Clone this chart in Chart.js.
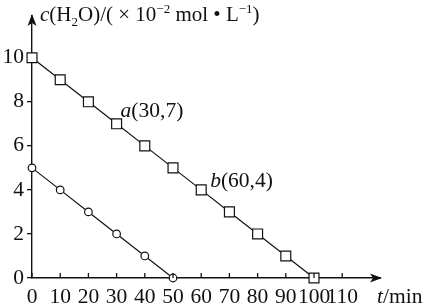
<!doctype html>
<html lang="zh">
<head>
<meta charset="UTF-8" />
<title>c(H2O) vs t</title>
<script src="https://cdn.jsdelivr.net/npm/chart.js"></script>
<style>
  body { margin: 0; background: #fff; }
  canvas { display: block; }
</style>
</head>
<body>
<canvas id="c" width="423" height="306"></canvas>
<script>
// data
const squareTime = [0, 10, 20, 30, 40, 50, 60, 70, 80, 90, 100]
const squareConc = [10, 9, 8, 7, 6, 5, 4, 3, 2, 1, 0]
const circleTime = [0, 10, 20, 30, 40, 50]
const circleConc = [5, 4, 3, 2, 1, 0]
const yLabels = [0, 2, 4, 6, 8, 10]
const xLabels = [0, 10, 20, 30, 40, 50, 60, 70, 80, 90, 100, 110]
const noteNames = ['a', 'b']
const noteX = [30, 60]
const noteY = [7, 4]

const SERIF = '"Liberation Serif", "Times New Roman", serif'
const INK = '#111'
const FS = 21.5

function pts(xs, ys) { return xs.map((x, i) => ({ x: x, y: ys[i] })) }

// draw text made of pieces: [text, style] style: 'i' italic, 'n' normal, 'sub', 'sup'
function richText(ctx, parts, x, y, size) {
  let cx = x
  parts.forEach(([t, s]) => {
    let f = size, dy = 0, st = ''
    if (s === 'i') st = 'italic '
    if (s === 'sub') { f = size * 0.62; dy = size * 0.22 }
    if (s === 'sup') { f = size * 0.62; dy = -size * 0.38 }
    ctx.font = st + f + 'px ' + SERIF
    ctx.fillText(t, cx, y + dy)
    cx += ctx.measureText(t).width
  })
}

const axisExtras = {
  id: 'axisExtras',
  afterDraw(chart) {
    const ctx = chart.ctx
    const a = chart.chartArea
    const xs = chart.scales.x, ys = chart.scales.y
    ctx.save()
    ctx.fillStyle = INK
    ctx.strokeStyle = INK
    ctx.lineWidth = 1.3
    // x ticks pointing up
    xLabels.forEach(v => {
      const px = xs.getPixelForValue(v)
      ctx.beginPath()
      ctx.moveTo(px, a.bottom)
      ctx.lineTo(px, a.bottom - 5)
      ctx.stroke()
    })
    // arrow heads
    ctx.beginPath()
    ctx.moveTo(a.right + 2, a.bottom)
    ctx.lineTo(a.right - 10, a.bottom - 4.5)
    ctx.lineTo(a.right - 7, a.bottom)
    ctx.lineTo(a.right - 10, a.bottom + 4.5)
    ctx.closePath()
    ctx.fill()
    ctx.beginPath()
    ctx.moveTo(a.left, a.top - 2)
    ctx.lineTo(a.left - 4.5, a.top + 10)
    ctx.lineTo(a.left, a.top + 7)
    ctx.lineTo(a.left + 4.5, a.top + 10)
    ctx.closePath()
    ctx.fill()
    // axis titles
    ctx.textBaseline = 'alphabetic'
    ctx.textAlign = 'left'
    richText(ctx, [['c', 'i'], ['(H', 'n'], ['2', 'sub'], ['O)/( \u00d7 10', 'n'], ['\u22122', 'sup'],
      [' mol \u2022 L', 'n'], ['\u22121', 'sup'], [')', 'n']], a.left + 8, 21, 21)
    richText(ctx, [['t', 'i'], ['/min', 'n']], a.right - 3, 303, FS)
    // point notes
    const offX = [4, 9], offY = [-7, -3]
    noteNames.forEach((n, i) => {
      const px = xs.getPixelForValue(noteX[i]), py = ys.getPixelForValue(noteY[i])
      richText(ctx, [[n, 'i'], ['(' + noteX[i] + ',' + noteY[i] + ')', 'n']], px + offX[i], py + offY[i], FS)
    })
    ctx.restore()
  }
}

new Chart(document.getElementById('c'), {
  type: 'line',
  data: {
    datasets: [
      {
        data: pts(squareTime, squareConc),
        borderColor: INK, borderWidth: 1.2,
        pointStyle: 'rect', pointRadius: 7, pointBorderWidth: 1.2,
        pointBackgroundColor: '#fff', pointBorderColor: INK,
        clip: false
      },
      {
        data: pts(circleTime, circleConc),
        borderColor: INK, borderWidth: 1.2,
        pointStyle: 'circle', pointRadius: 3.8, pointBorderWidth: 1.2,
        pointBackgroundColor: '#fff', pointBorderColor: INK,
        clip: false
      }
    ]
  },
  options: {
    responsive: false,
    animation: false,
    devicePixelRatio: 1,
    layout: { padding: { left: 0, top: 7, right: 43, bottom: 0 } },
    plugins: { legend: { display: false }, tooltip: { enabled: false } },
    scales: {
      x: {
        type: 'linear', min: 0, max: 123.4,
        afterFit: s => { s.height = 28 },
        grid: { display: false, drawTicks: false, tickLength: 0 },
        border: { display: true, color: INK, width: 1.4 },
        ticks: {
          stepSize: 10, includeBounds: false, autoSkip: false, maxRotation: 0,
          padding: 6, color: INK, font: { family: SERIF, size: FS },
          callback: v => xLabels.includes(v) ? String(v) : null
        }
      },
      y: {
        type: 'linear', min: 0, max: 11.9,
        afterFit: s => { s.width = 32 },
        grid: { drawOnChartArea: false, drawTicks: true, tickLength: 5, color: INK, lineWidth: 1.3 },
        border: { display: true, color: INK, width: 1.4 },
        ticks: {
          stepSize: 1, includeBounds: false, padding: 3, color: INK,
          font: { family: SERIF, size: FS },
          callback: v => v > 10 ? null : (yLabels.includes(v) ? String(v) : '')
        }
      }
    }
  },
  plugins: [axisExtras]
})
</script>
</body>
</html>
